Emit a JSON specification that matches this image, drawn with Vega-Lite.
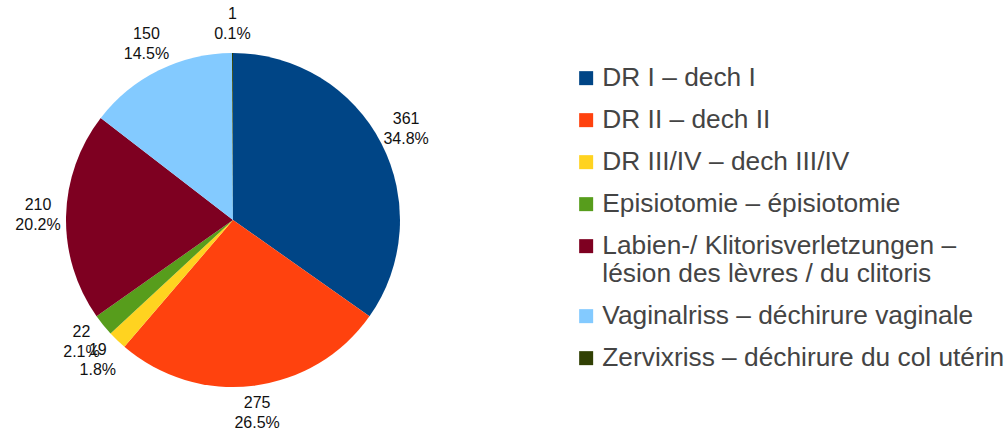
{
  "$schema": "https://vega.github.io/schema/vega-lite/v6.json",
  "width": 466,
  "height": 416,
  "padding": {"top": 12, "left": 0, "right": 541, "bottom": 0},
  "autosize": {"type": "none"},
  "background": "white",
  "config": {"view": {"stroke": null}, "font": "Liberation Sans"},
  "data": {
    "values": [
      {"i": 1, "cat": "DR I – dech I", "value": 361, "label": "361\n34.8%"},
      {"i": 2, "cat": "DR II – dech II", "value": 275, "label": "275\n26.5%"},
      {"i": 3, "cat": "DR III/IV – dech III/IV", "value": 19, "label": "19\n1.8%"},
      {"i": 4, "cat": "Episiotomie – épisiotomie", "value": 22, "label": "22\n2.1%"},
      {"i": 5, "cat": "Labien-/ Klitorisverletzungen –|lésion des lèvres / du clitoris", "value": 210, "label": "210\n20.2%"},
      {"i": 6, "cat": "Vaginalriss – déchirure vaginale", "value": 150, "label": "150\n14.5%"},
      {"i": 7, "cat": "Zervixriss – déchirure du col utérin", "value": 1, "label": "1\n0.1%"}
    ]
  },
  "encoding": {
    "theta": {"field": "value", "type": "quantitative", "stack": true},
    "order": {"field": "i", "type": "quantitative", "sort": "ascending"}
  },
  "layer": [
    {
      "mark": {"type": "arc", "outerRadius": 167},
      "encoding": {
        "color": {
          "field": "cat",
          "type": "nominal",
          "sort": {"field": "i"},
          "scale": {
            "domain": [
              "DR I – dech I",
              "DR II – dech II",
              "DR III/IV – dech III/IV",
              "Episiotomie – épisiotomie",
              "Labien-/ Klitorisverletzungen –|lésion des lèvres / du clitoris",
              "Vaginalriss – déchirure vaginale",
              "Zervixriss – déchirure du col utérin"
            ],
            "range": ["#004586", "#ff420e", "#ffd320", "#579d1c", "#7e0021", "#83caff", "#314004"]
          },
          "legend": {
            "title": null,
            "orient": "none",
            "legendX": 573,
            "legendY": 53,
            "padding": 0,
            "symbolType": "square",
            "symbolSize": 196,
            "symbolStrokeWidth": 0,
            "labelFontSize": 26.3,
            "labelFont": "Liberation Sans",
            "labelColor": "#444444",
            "labelLimit": 0,
            "labelOffset": 3,
            "labelLineHeight": 26,
            "labelBaseline": "middle",
            "rowPadding": 15,
            "labelExpr": "split(datum.label, '|')"
          }
        }
      }
    },
    {
      "mark": {"type": "text", "radius": 195, "dy": -11, "fontSize": 16, "lineHeight": 20, "lineBreak": "\n", "color": "#111111", "baseline": "middle", "align": "center", "font": "Liberation Sans"},
      "encoding": {
        "text": {"field": "label", "type": "nominal"}
      }
    }
  ]
}
